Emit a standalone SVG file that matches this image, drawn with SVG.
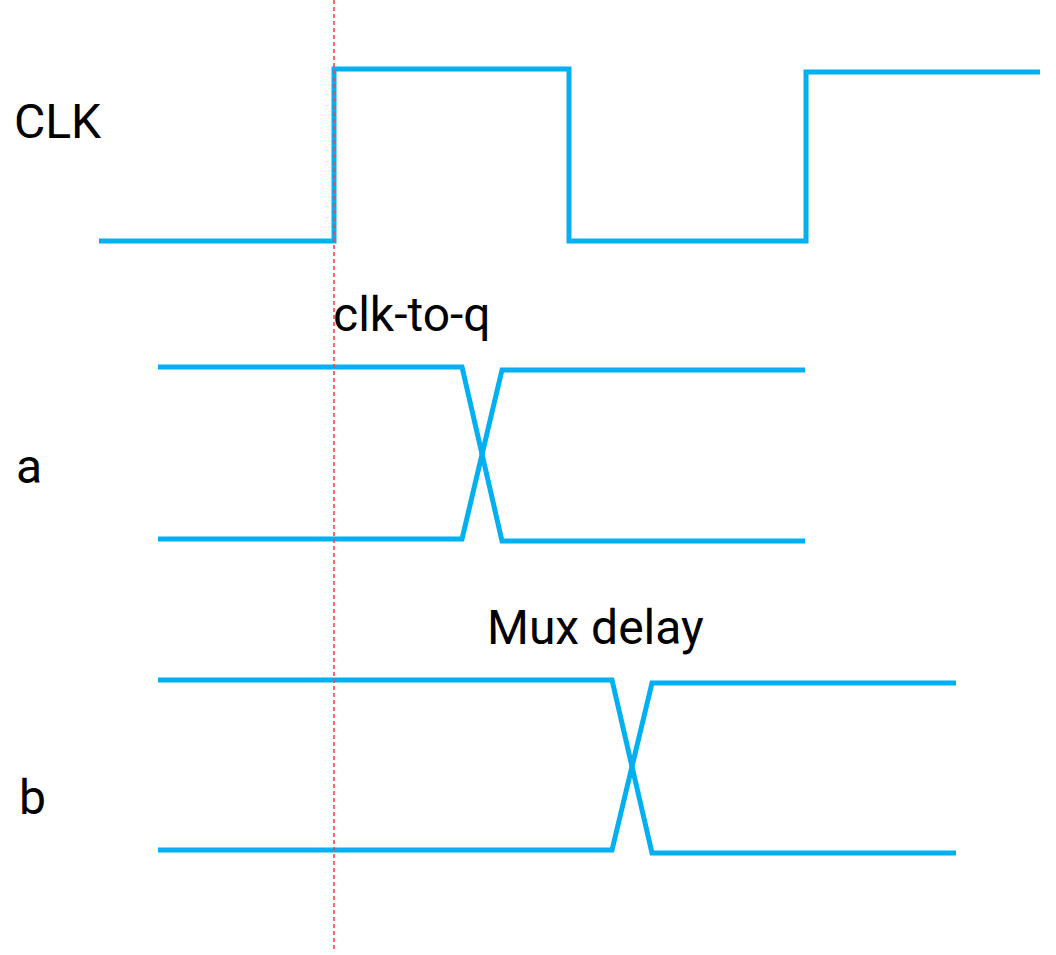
<svg xmlns="http://www.w3.org/2000/svg" width="1056" height="955" viewBox="0 0 1056 955">
<style>
.sig{fill:none;stroke:#00b0f0;stroke-width:5;stroke-linejoin:miter}
.lbl{font-family:Roboto,"Liberation Sans",sans-serif;font-size:48px;fill:#000}
.marker{stroke:#f04848;stroke-width:1.6;stroke-dasharray:4 3;fill:none}
</style>
<rect width="1056" height="955" fill="#fff"/>
<g id="clk">
<polyline class="sig" points="99,241 334,241 334,69 569,69 569,241 806,241 806,72 1040,72"/>
<text class="lbl" x="14" y="138">CLK</text>
</g>
<g id="signal-a">
<polyline class="sig" points="158,367 462,367 502,541 805,541"/>
<polyline class="sig" points="158,539 462,539 502,370 805,370"/>
<text class="lbl" x="16" y="483">a</text>
</g>
<g id="signal-b">
<polyline class="sig" points="158,680 612,680 652,853 956,853"/>
<polyline class="sig" points="158,850 612,850 652,683 956,683"/>
<text class="lbl" x="19" y="814">b</text>
</g>
<g id="connectors">
<line class="marker" x1="334" y1="0" x2="334" y2="952"/>
</g>
<g id="annotations">
<text class="lbl" x="333" y="331">clk-to-q</text>
<text class="lbl" x="487" y="644">Mux delay</text>
</g>
</svg>
